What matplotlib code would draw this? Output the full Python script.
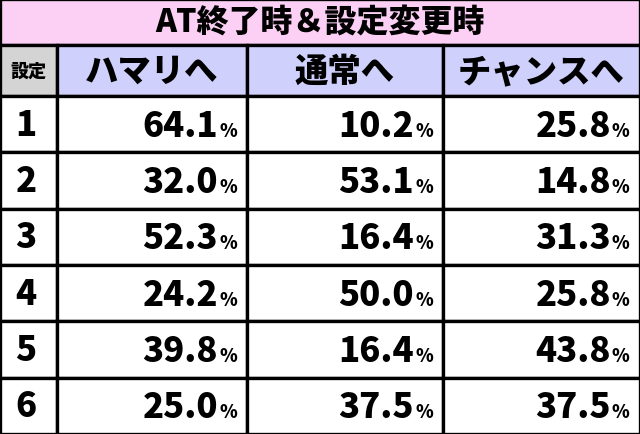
import matplotlib.pyplot as plt
from matplotlib.patches import Rectangle

plt.rcParams['font.family'] = ['Noto Sans CJK JP', 'DejaVu Sans']

title = "AT終了時＆設定変更時"
columns = ["ハマリへ", "通常へ", "チャンスへ"]
settings = ["1", "2", "3", "4", "5", "6"]
hamari = [64.1, 32.0, 52.3, 24.2, 39.8, 25.0]
tsujo = [10.2, 53.1, 16.4, 50.0, 16.4, 37.5]
chance = [25.8, 14.8, 31.3, 25.8, 43.8, 37.5]

W, H = 640, 435
col_x = [0, 57, 247, 443, 640]
title_h = 46
head_h = 51
row_h = (H - title_h - head_h) / len(settings)

fig = plt.figure(figsize=(6.4, 4.35), dpi=100)
ax = fig.add_axes([0, 0, 1, 1])
ax.set_xlim(0, W)
ax.set_ylim(H, 0)
ax.axis('off')

def cell(x0, y0, x1, y1, fc):
    ax.add_patch(Rectangle((x0, y0), x1 - x0, y1 - y0, facecolor=fc,
                           edgecolor='black', linewidth=2.4))

cell(0, 0, W, title_h, '#fbd0f4')
ax.text(W / 2, title_h / 2, title, ha='center', va='center',
        fontsize=23, fontweight='black')

y0 = title_h
cell(col_x[0], y0, col_x[1], y0 + head_h, '#d4d4d4')
ax.text((col_x[0] + col_x[1]) / 2, y0 + head_h / 2, "設定", ha='center',
        va='center', fontsize=13, fontweight='black')
for i, name in enumerate(columns):
    cell(col_x[i + 1], y0, col_x[i + 2], y0 + head_h, '#cfd0fb')
    ax.text((col_x[i + 1] + col_x[i + 2]) / 2, y0 + head_h / 2, name,
            ha='center', va='center', fontsize=24, fontweight='black')

series = [hamari, tsujo, chance]
for r, s in enumerate(settings):
    ry = title_h + head_h + r * row_h
    cell(col_x[0], ry, col_x[1], ry + row_h, 'white')
    ax.text(26, ry + row_h / 2, s, ha='center', va='center',
            fontsize=25, fontweight='black')
    for c, vals in enumerate(series):
        cell(col_x[c + 1], ry, col_x[c + 2], ry + row_h, 'white')
        xe = col_x[c + 2] - 29
        ax.text(xe, ry + row_h / 2 + 1, f"{vals[r]:.1f}", ha='right',
                va='center', fontsize=25, fontweight='black')
        ax.text(xe + 1, ry + row_h / 2 + 6, "%", ha='left', va='center',
                fontsize=13, fontweight='black')

fig.savefig('out.png', dpi=100)
